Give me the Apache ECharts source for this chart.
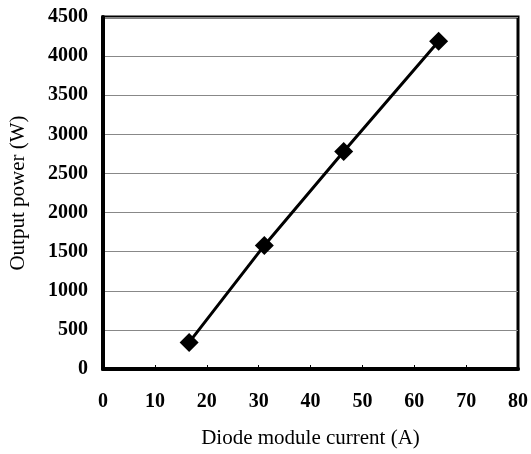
<!DOCTYPE html>
<html>
<head>
<meta charset="utf-8">
<script src="https://cdn.jsdelivr.net/npm/echarts@6/dist/echarts.min.js"></script>
<style>
html,body{margin:0;padding:0;background:#fff;}
#main{width:531px;height:454px;}
</style>
</head>
<body>
<div id="main"></div>
<script>
// data
var current = [16.6, 31.1, 46.4, 64.7];
var power = [340, 1580, 2780, 4190];

window.addEventListener('load',function(){
    initChart(current,power)
})

function initChart(xs,ys){
    var myChart = echarts.init(document.getElementById('main'));
    var data = [];
    for (let i = 0; i < xs.length; i++) {
        data.push([xs[i],ys[i]]);
    }
    var font = '"Liberation Serif", "Times New Roman", serif';
    var option = {
        animation: false,
        backgroundColor: '#fff',
        grid: {
            left: 103,
            right: 12,
            top: 17,
            bottom: 84,
            show: true,
            borderColor: '#000',
            borderWidth: 3
        },
        xAxis: {
            type: 'value',
            min: 0,
            max: 80,
            interval: 10,
            name: 'Diode module current (A)',
            nameLocation: 'middle',
            nameGap: 59,
            nameTextStyle: {color:'#000', fontFamily: font, fontSize: 21},
            axisLine: {show: true, lineStyle: {color:'#000', width: 4}},
            axisTick: {show: true, inside: true, length: 4, lineStyle: {color:'#000', width: 1}},
            axisLabel: {color:'#000', fontFamily: font, fontWeight: 'bold', fontSize: 20, margin: 23},
            splitLine: {show: false}
        },
        yAxis: {
            type: 'value',
            min: 0,
            max: 4500,
            interval: 500,
            name: 'Output power (W)',
            nameLocation: 'middle',
            nameGap: 74,
            nameTextStyle: {color:'#000', fontFamily: font, fontSize: 21},
            axisLine: {show: true, lineStyle: {color:'#000', width: 4}},
            axisTick: {show: false},
            axisLabel: {
                color:'#000', fontFamily: font, fontWeight: 'bold', fontSize: 20, margin: 15,
                formatter: function(v){ return String(v); }
            },
            splitLine: {show: true, lineStyle: {color:'#888', width: 1}}
        },
        series: [
          {
            type: 'line',
            data: data,
            symbol: 'diamond',
            symbolSize: 19,
            lineStyle: {color:'#000', width: 3},
            itemStyle: {color:'#000'}
          }
        ]
      };
    myChart.setOption(option)
}
</script>
</body>
</html>
